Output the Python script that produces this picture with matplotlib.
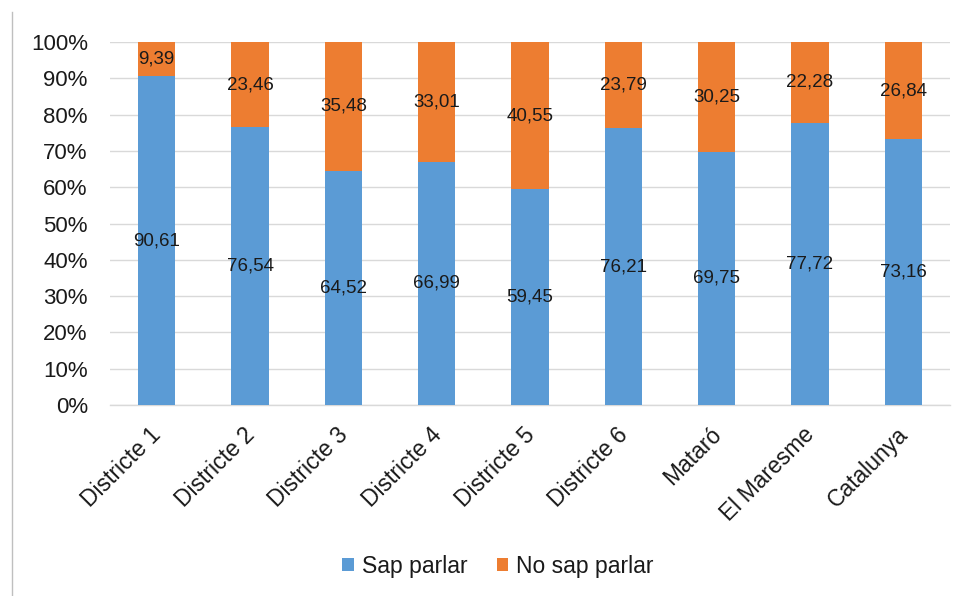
import matplotlib
matplotlib.use("Agg")
import matplotlib.pyplot as plt
from matplotlib.lines import Line2D
from matplotlib.ticker import FuncFormatter, MultipleLocator
from matplotlib.transforms import ScaledTranslation

plt.rcParams['font.family'] = ['Liberation Sans', 'DejaVu Sans']

categories = ["Districte 1", "Districte 2", "Districte 3", "Districte 4", "Districte 5",
              "Districte 6", "Mataró", "El Maresme", "Catalunya"]
sap_parlar = [90.61, 76.54, 64.52, 66.99, 59.45, 76.21, 69.75, 77.72, 73.16]
no_sap_parlar = [9.39, 23.46, 35.48, 33.01, 40.55, 23.79, 30.25, 22.28, 26.84]
series_names = ["Sap parlar", "No sap parlar"]

BLUE = "#5B9BD5"
ORANGE = "#ED7D31"
TEXT = "#1A1A1A"

fig = plt.figure(figsize=(9.63, 5.96), dpi=100)
ax = fig.add_axes([110 / 963, 1 - 405 / 596, 840 / 963, 363 / 596])

x = list(range(len(categories)))
width = 0.4
b1 = ax.bar(x, sap_parlar, width, color=BLUE, label=series_names[0], zorder=3)
b2 = ax.bar(x, no_sap_parlar, width, bottom=sap_parlar, color=ORANGE,
            label=series_names[1], zorder=3)

def fmt(v):
    return f"{v:.2f}".replace(".", ",")

for xi, s, n in zip(x, sap_parlar, no_sap_parlar):
    ax.text(xi, s / 2, fmt(s), ha="center", va="center", fontsize=13.5, color=TEXT, zorder=4)
    ax.text(xi, s + n / 2, fmt(n), ha="center", va="center", fontsize=13.5, color=TEXT, zorder=4)

ax.set_xlim(-0.5, len(categories) - 0.5)
ax.set_ylim(0, 100)
ax.yaxis.set_major_locator(MultipleLocator(10))
ax.yaxis.set_major_formatter(FuncFormatter(lambda v, p: f"{int(round(v))}%"))
ax.grid(axis="y", color="#D9D9D9", linewidth=1, zorder=0)
for side in ["top", "right", "left"]:
    ax.spines[side].set_visible(False)
ax.spines["bottom"].set_color("#D9D9D9")
ax.spines["bottom"].set_linewidth(1)
ax.tick_params(axis="y", length=0, pad=16, labelsize=16, labelcolor=TEXT)
ax.tick_params(axis="x", length=0, pad=8, labelsize=16.5, labelcolor=TEXT)
ax.set_xticks(x)
ax.set_xticklabels(categories, rotation=45, ha="right", rotation_mode="anchor")
shift = ScaledTranslation(-0.07, -0.07, fig.dpi_scale_trans)
for lbl in ax.get_xticklabels():
    lbl.set_transform(lbl.get_transform() + shift)

fig.legend(handles=[b1, b2], labels=series_names, loc="center",
           bbox_to_anchor=(498 / 963, 1 - 566 / 596), ncol=2, frameon=False,
           fontsize=16.5, handlelength=0.5, handleheight=0.5, handletextpad=0.35,
           columnspacing=1.3, labelcolor=TEXT)

fig.add_artist(Line2D([11.5 / 963, 11.5 / 963], [0, 1 - 12 / 596],
                      transform=fig.transFigure, color="#BFBFBF", linewidth=1))

fig.savefig("out.png", dpi=100)
